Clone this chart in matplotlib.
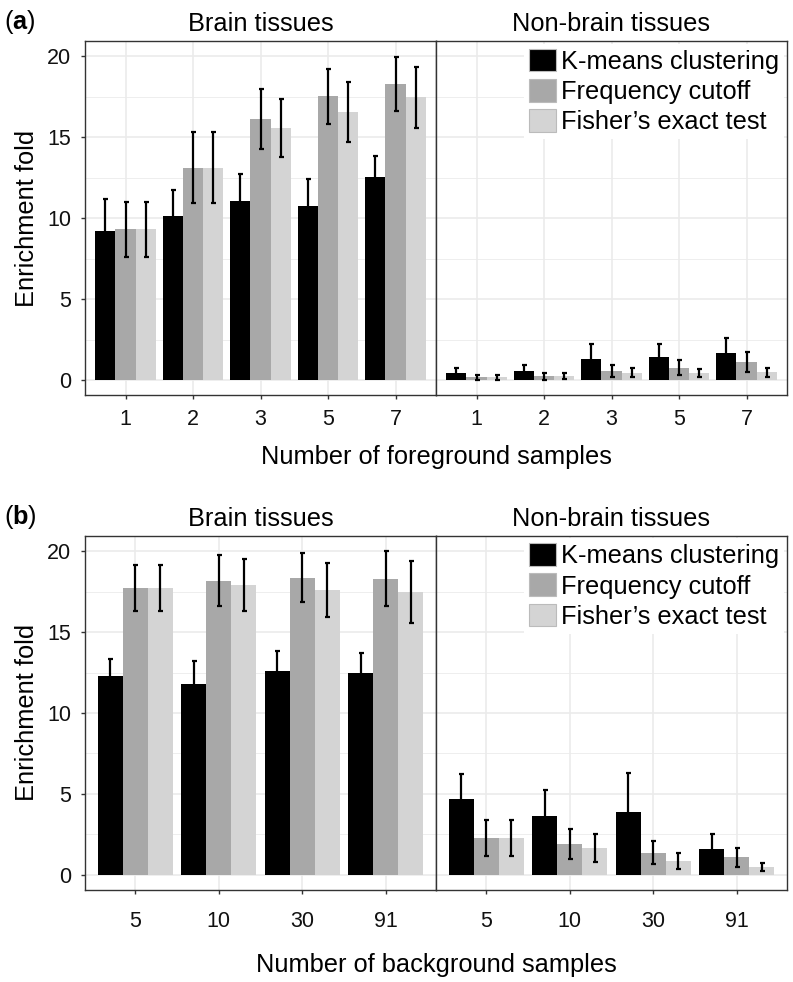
import numpy as np
import matplotlib
matplotlib.use("Agg")
import matplotlib.pyplot as plt
from matplotlib.patches import Patch

plt.rcParams['font.family'] = ['Liberation Sans', 'DejaVu Sans']
plt.rcParams['mathtext.fontset'] = 'custom'
plt.rcParams['mathtext.rm'] = 'Liberation Sans'
plt.rcParams['mathtext.bf'] = 'Liberation Sans:bold'

methods = ["K-means clustering", "Frequency cutoff", "Fisher\u2019s exact test"]
colors = ["#000000", "#A8A8A8", "#D4D4D4"]

# panel (a): number of foreground samples
fg_labels = ["1", "2", "3", "5", "7"]
a_brain_mean = [[9.2, 10.14, 11.09, 10.76, 12.57],
                [9.3, 13.13, 16.12, 17.52, 18.3],
                [9.3, 13.13, 15.58, 16.57, 17.46]]
a_brain_err = [[2.0, 1.6, 1.67, 1.65, 1.3],
               [1.7, 2.19, 1.87, 1.69, 1.65],
               [1.7, 2.19, 1.78, 1.87, 1.89]]
a_non_mean = [[0.45, 0.56, 1.30, 1.40, 1.65],
              [0.17, 0.23, 0.55, 0.75, 1.09],
              [0.17, 0.24, 0.45, 0.41, 0.48]]
a_non_err = [[0.27, 0.37, 0.95, 0.80, 0.92],
             [0.15, 0.22, 0.36, 0.47, 0.62],
             [0.15, 0.20, 0.29, 0.25, 0.28]]

# panel (b): number of background samples
bg_labels = ["5", "10", "30", "91"]
b_brain_mean = [[12.31, 11.79, 12.6, 12.45],
                [17.71, 18.18, 18.35, 18.3],
                [17.71, 17.92, 17.61, 17.46]]
b_brain_err = [[1.0, 1.44, 1.21, 1.26],
               [1.41, 1.55, 1.51, 1.68],
               [1.41, 1.62, 1.67, 1.9]]
b_non_mean = [[4.70, 3.65, 3.86, 1.63],
              [2.29, 1.91, 1.38, 1.08],
              [2.29, 1.66, 0.85, 0.48]]
b_non_err = [[1.51, 1.59, 2.41, 0.91],
             [1.09, 0.92, 0.72, 0.58],
             [1.09, 0.86, 0.48, 0.26]]

W, H = 793, 982
fig = plt.figure(figsize=(W / 100, H / 100), dpi=100)

TICK = 15.5
BIG = 18.3


def fx(px):
    return px / W


def fy(py):
    return 1 - py / H


def draw_panel(ax, labels, means, errs, show_y, xpad):
    n = len(labels)
    x = np.arange(1, n + 1)
    w = 0.3
    for k in range(3):
        pos = x + (k - 1) * w
        ax.bar(pos, means[k], width=w, color=colors[k], zorder=2)
        ax.errorbar(pos, means[k], yerr=errs[k], fmt='none', ecolor='black',
                    elinewidth=1.6, capsize=1.8, capthick=1.6, zorder=3)
    ax.set_xlim(0.4, n + 0.6)
    ax.set_ylim(-0.93, 20.95)
    ax.set_xticks(x)
    ax.set_xticklabels(labels)
    ax.set_yticks([0, 5, 10, 15, 20])
    ax.set_yticks([2.5, 7.5, 12.5, 17.5], minor=True)
    ax.grid(True, which='major', color='#EBEBEB', lw=1.2, zorder=0)
    ax.grid(True, which='minor', axis='y', color='#EBEBEB', lw=0.6, zorder=0)
    ax.set_axisbelow(True)
    for s in ax.spines.values():
        s.set_color('#333333')
        s.set_linewidth(1.0)
    ax.tick_params(axis='both', which='major', length=3, width=1, color='#333333',
                   labelsize=TICK, labelcolor='#111111')
    ax.tick_params(axis='x', pad=xpad)
    ax.tick_params(axis='y', pad=7)
    ax.tick_params(axis='y', which='minor', length=0)
    if not show_y:
        ax.tick_params(axis='y', which='major', length=0, labelleft=False)


def draw_row(top, bottom, labels, brain_m, brain_e, non_m, non_e, letter, xtitle,
             xpad, title_off):
    left, mid, right = 85, 436, 787
    ax1 = fig.add_axes([fx(left), fy(bottom), fx(mid - left), fy(top) - fy(bottom)])
    ax2 = fig.add_axes([fx(mid), fy(bottom), fx(right - mid), fy(top) - fy(bottom)])
    draw_panel(ax1, labels, brain_m, brain_e, True, xpad)
    draw_panel(ax2, labels, non_m, non_e, False, xpad)
    ax1.set_title("Brain tissues", fontsize=BIG, pad=7)
    ax2.set_title("Non-brain tissues", fontsize=BIG, pad=7)
    ax1.set_ylabel("Enrichment fold", fontsize=BIG, labelpad=5.5)
    fig.text(fx((left + right) / 2), fy(bottom + title_off), xtitle, fontsize=BIG,
             ha='center', va='center')
    fig.text(fx(4), fy(top - 19), r"($\mathbf{" + letter + r"}$)", fontsize=BIG,
             ha='left', va='center')
    handles = [Patch(facecolor=c, edgecolor='#BBBBBB', lw=0.8) for c in colors]
    leg = ax2.legend(handles, methods, loc='upper right', fontsize=BIG,
                     frameon=True, fancybox=False, edgecolor='white',
                     framealpha=1, handlelength=1.05, handleheight=1.0,
                     handletextpad=0.2, labelspacing=0.2, borderpad=0.2,
                     borderaxespad=0.1)
    leg.get_frame().set_linewidth(0)
    return ax1, ax2


draw_row(41, 395, fg_labels, a_brain_mean, a_brain_err, a_non_mean, a_non_err,
         "a", "Number of foreground samples", 7, 62)
draw_row(535.7, 890, bg_labels, b_brain_mean, b_brain_err, b_non_mean, b_non_err,
         "b", "Number of background samples", 12, 75)

fig.savefig("out.png", dpi=100)
